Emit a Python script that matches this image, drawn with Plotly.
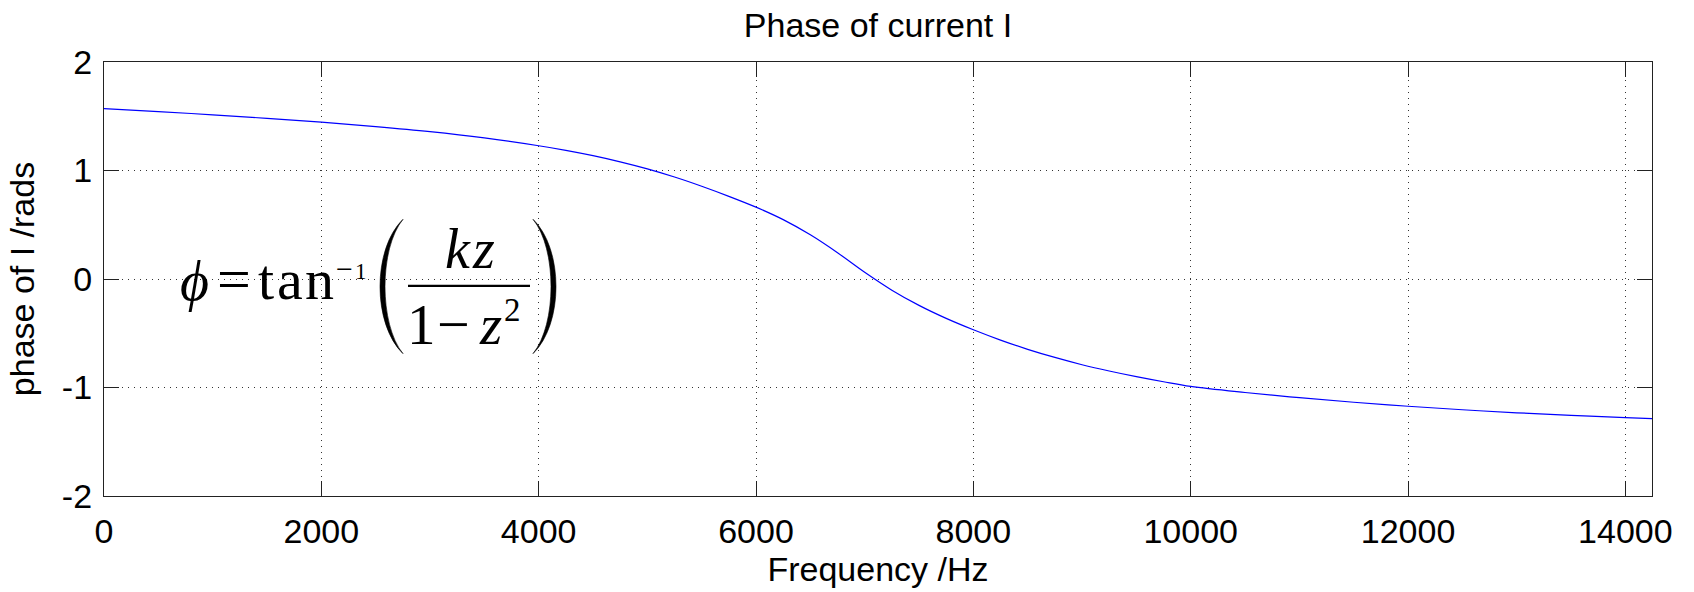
import plotly.graph_objects as go

# ---- data ----
freq_hz = [0, 500, 1000, 1500, 2000, 2500, 3000, 3500, 4000, 4250, 4500, 4750,
           5000, 5250, 5500, 5750, 6000, 6250, 6500, 6750, 7000, 7250, 7500, 7750,
           8000, 8250, 8500, 8750, 9000, 9250, 9500, 9750, 10000, 10500, 11000,
           11500, 12000, 12500, 13000, 13500, 14000, 14245]
phase_rad = [1.571, 1.543, 1.513, 1.481, 1.446, 1.405, 1.358, 1.300, 1.228, 1.186,
             1.137, 1.080, 1.015, 0.940, 0.855, 0.762, 0.662, 0.547, 0.407, 0.242,
             0.062, -0.103, -0.243, -0.363, -0.468, -0.563, -0.648, -0.723, -0.790,
             -0.848, -0.900, -0.947, -0.990, -1.046, -1.094, -1.136, -1.173, -1.205,
             -1.233, -1.257, -1.277, -1.286]
x_ticks = [0, 2000, 4000, 6000, 8000, 10000, 12000, 14000]
y_ticks = [-2, -1, 0, 1, 2]

W, H = 1694, 592
L, R, T, B = 104, 42, 62, 94
PW, PH = W - L - R, H - T - B


def px(X):
    return (X - L) / PW


def py(Y):
    return (H - B - Y) / PH


SANS = "Liberation Sans, Arial, sans-serif"
SERIF = "Liberation Serif, Times New Roman, serif"
FS = 34

fig = go.Figure()
fig.add_trace(go.Scatter(x=freq_hz, y=phase_rad, mode="lines",
                         line=dict(color="#0000ff", width=1.2, shape="spline", smoothing=1.0),
                         showlegend=False, hoverinfo="skip"))

axis_common = dict(
    showline=True, mirror="ticks", linecolor="#222222", linewidth=1.3,
    ticks="inside", ticklen=15, tickwidth=1.3, tickcolor="#222222",
    showgrid=True, gridcolor="#333333", gridwidth=1, griddash="1px,5px",
    zeroline=False, tickfont=dict(family=SANS, size=FS, color="black"),
)

fig.update_xaxes(range=[0, 14245], tickvals=x_ticks, ticktext=[str(v) for v in x_ticks],
                 title=dict(text="Frequency /Hz", font=dict(family=SANS, size=FS, color="black"),
                            standoff=6),
                 ticklabelstandoff=5, **axis_common)
fig.update_yaxes(range=[-2, 2], tickvals=y_ticks, ticktext=[str(v) for v in y_ticks],
                 title=dict(text="phase of I /rads", font=dict(family=SANS, size=FS, color="black"),
                            standoff=16),
                 ticklabelstandoff=4, **axis_common)

fig.update_layout(
    width=W, height=H,
    margin=dict(l=L, r=R, t=T, b=B, pad=0),
    paper_bgcolor="white", plot_bgcolor="white",
    title=dict(text="Phase of current I", font=dict(family=SANS, size=FS, color="black"),
               x=0.5, xref="paper", xanchor="center",
               y=1 - 25 / H, yref="container", yanchor="middle"),
)

# ---- equation annotation: phi = tan^-1( kz / (1 - z^2) ) ----
def txt(s, cx, baseline, size, italic=False):
    cy = baseline - 0.33 * size
    fig.add_annotation(text=s, x=px(cx), y=py(cy), xref="paper", yref="paper",
                       xanchor="center", yanchor="middle", showarrow=False,
                       font=dict(family=SERIF, size=size, color="black",
                                 style="italic" if italic else "normal"))


txt("ϕ", 194, 300, 56, italic=True)
txt("=", 234, 300, 60)
txt("t", 266, 300, 58)
txt("a", 290, 300, 58)
txt("n", 319, 300, 58)
txt("−", 344, 279, 30)
txt("1", 361, 280, 23)
txt("k", 458, 268, 56, italic=True)
txt("z", 483, 268, 56, italic=True)
txt("1", 421, 345, 57)
txt("−", 453, 345, 58)
txt("z", 490, 345, 57, italic=True)
txt("2", 512, 322, 33)

# fraction bar
fig.add_shape(type="line", xref="paper", yref="paper",
              x0=px(408), x1=px(530), y0=py(287), y1=py(287),
              line=dict(color="black", width=2.2))


def paren(x_tip, x_mid_out, x_mid_in, y_top, y_bot):
    # cubic-bezier crescent; mid x = (2*x_tip + 6*c)/8
    co = (8 * x_mid_out - 2 * x_tip) / 6
    ci = (8 * x_mid_in - 2 * x_tip) / 6
    h = y_bot - y_top
    ya, yb = y_top + 0.22 * h, y_bot - 0.22 * h
    p = (f"M {px(x_tip)},{py(y_top)} "
         f"C {px(co)},{py(ya)} {px(co)},{py(yb)} {px(x_tip)},{py(y_bot)} "
         f"C {px(ci)},{py(yb)} {px(ci)},{py(ya)} {px(x_tip)},{py(y_top)} Z")
    fig.add_shape(type="path", xref="paper", yref="paper", path=p,
                  fillcolor="black", line=dict(color="black", width=0.6))


paren(403, 380, 385, 220, 355)
paren(533, 556, 551, 220, 355)

fig.write_html("out.html")
